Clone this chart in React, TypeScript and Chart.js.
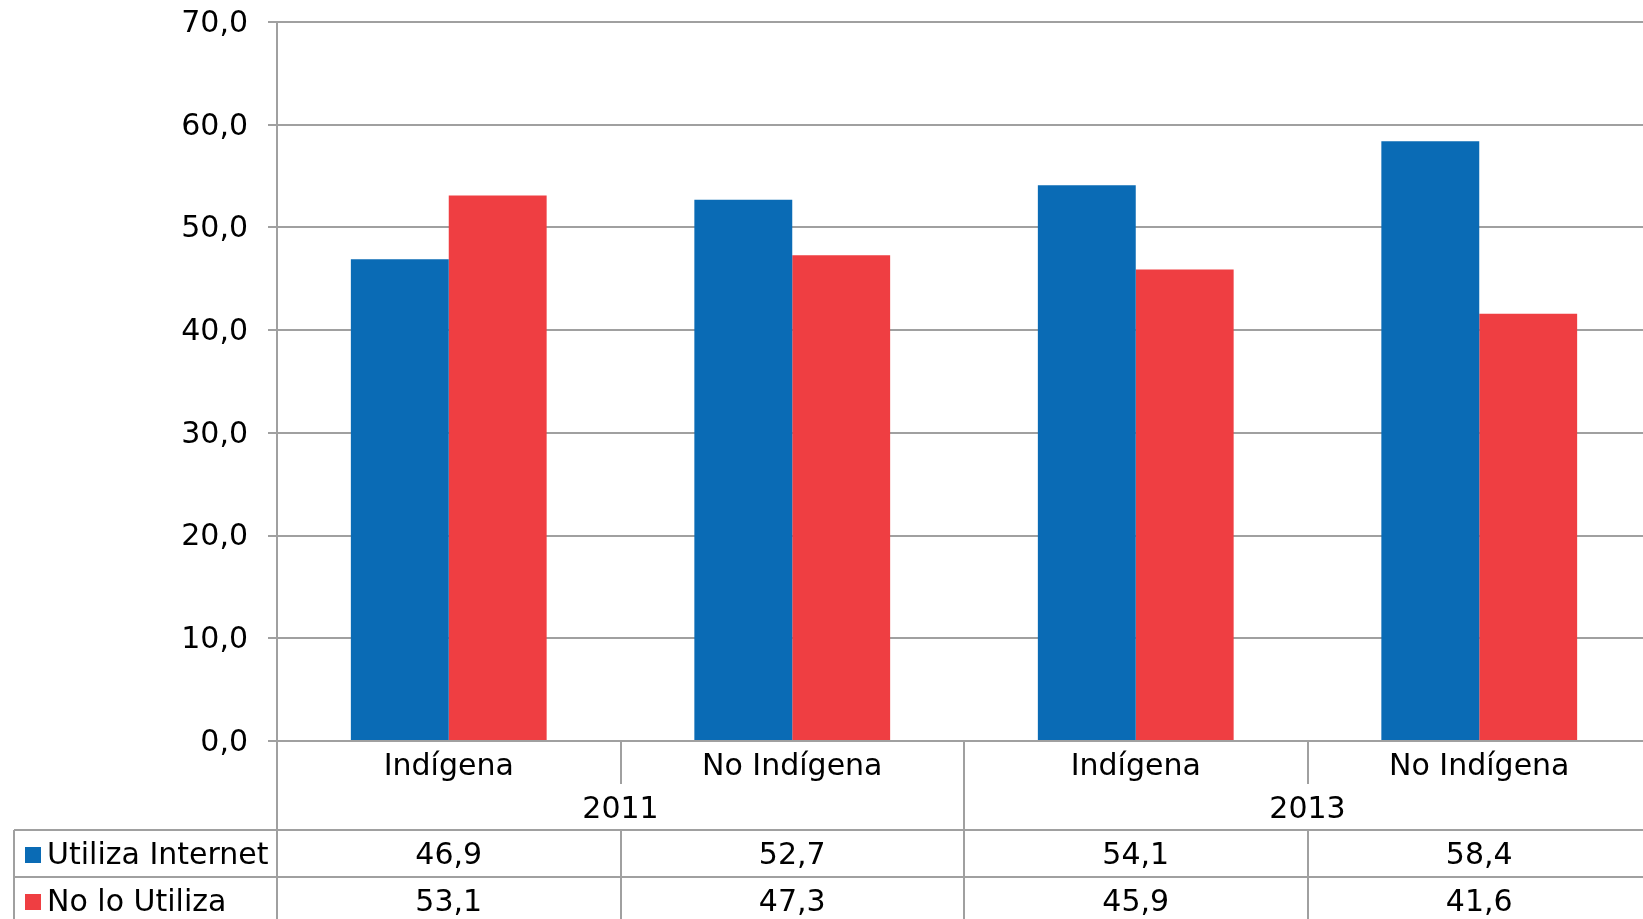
import React, { useEffect, useRef } from "react";
import { Chart, registerables } from "chart.js";

Chart.register(...registerables);

const CATEGORIES = ["Indígena", "No Indígena", "Indígena", "No Indígena"];
const GROUPS = ["2011", "2013"];
const SERIES_NAMES = ["Utiliza Internet", "No lo Utiliza"];
const UTILIZA = [46.9, 52.7, 54.1, 58.4];
const NO_UTILIZA = [53.1, 47.3, 45.9, 41.6];
const COLORS = ["#0a6bb5", "#ef3e42"];

const FONT = "'DejaVu Sans', Verdana, sans-serif";
const GRID = "#a0a0a0";

const fmt = (v: number) => v.toFixed(1).replace(".", ",");

const tablePlugin = {
  id: "dataTable",
  afterDraw(chart: any) {
    const ctx = chart.ctx as CanvasRenderingContext2D;
    const xs = chart.scales.x;
    const area = chart.chartArea;
    const n = CATEGORIES.length;
    const catW = (area.right - area.left) / n;
    const b = area.bottom;
    const catRowEnd = b + 43;
    const groupRowEnd = b + 89;
    const row1End = groupRowEnd + 47;
    const H = chart.height;
    const tableLeft = 14;

    ctx.save();
    ctx.strokeStyle = GRID;
    ctx.lineWidth = 2;
    const line = (x1: number, y1: number, x2: number, y2: number) => {
      ctx.beginPath();
      ctx.moveTo(x1, y1);
      ctx.lineTo(x2, y2);
      ctx.stroke();
    };
    // axis line continuation
    line(area.left, b, area.left, H);
    // category separators
    for (let i = 1; i < n; i++) {
      const bx = Math.round(xs.getPixelForValue(i) - catW / 2);
      if (i % 2 === 0) {
        line(bx, b, bx, H);
      } else {
        line(bx, b, bx, catRowEnd);
        line(bx, groupRowEnd, bx, H);
      }
    }
    // table horizontals
    line(tableLeft, groupRowEnd, chart.width, groupRowEnd);
    line(tableLeft, row1End, chart.width, row1End);
    line(tableLeft, groupRowEnd, tableLeft, H);

    ctx.fillStyle = "#000";
    ctx.font = `30px ${FONT}`;
    ctx.textAlign = "center";
    ctx.textBaseline = "middle";
    // category labels
    CATEGORIES.forEach((c, i) => {
      ctx.fillText(c, xs.getPixelForValue(i), b + 26);
    });
    // group labels
    GROUPS.forEach((g, gi) => {
      const cx = (xs.getPixelForValue(gi * 2) + xs.getPixelForValue(gi * 2 + 1)) / 2;
      ctx.fillText(g, cx, b + 69);
    });
    // table rows
    const rows = [UTILIZA, NO_UTILIZA];
    rows.forEach((vals, r) => {
      const cy = groupRowEnd + 26 + r * 47;
      vals.forEach((v, i) => {
        ctx.textAlign = "center";
        ctx.fillText(fmt(v), xs.getPixelForValue(i), cy);
      });
      ctx.fillStyle = COLORS[r];
      ctx.fillRect(25, cy - 9, 16, 16);
      ctx.fillStyle = "#000";
      ctx.textAlign = "left";
      ctx.fillText(SERIES_NAMES[r], 47, cy);
    });
    ctx.restore();
  },
};

export default function App() {
  const ref = useRef<HTMLCanvasElement | null>(null);

  useEffect(() => {
    if (!ref.current) return;
    const chart = new Chart(ref.current, {
      type: "bar",
      data: {
        labels: CATEGORIES,
        datasets: [
          {
            label: SERIES_NAMES[0],
            data: UTILIZA,
            backgroundColor: COLORS[0],
            borderWidth: 0,
            categoryPercentage: 0.57,
            barPercentage: 1,
          },
          {
            label: SERIES_NAMES[1],
            data: NO_UTILIZA,
            backgroundColor: COLORS[1],
            borderWidth: 0,
            categoryPercentage: 0.57,
            barPercentage: 1,
          },
        ],
      },
      options: {
        responsive: false,
        animation: false,
        devicePixelRatio: 1,
        layout: { padding: { top: 22, right: 9, bottom: 178, left: 0 } },
        plugins: { legend: { display: false }, tooltip: { enabled: false } },
        scales: {
          x: { display: false },
          y: {
            min: 0,
            max: 70,
            ticks: {
              stepSize: 10,
              padding: 20,
              labelOffset: 2,
              color: "#000",
              font: { family: FONT, size: 30 },
              callback: (v: any) => fmt(Number(v)),
            },
            grid: { color: GRID, lineWidth: 2, tickLength: 9, drawTicks: true },
            border: { display: true, color: GRID, width: 2 },
            afterFit: (s: any) => {
              s.width = 277;
              s.paddingTop = 0;
              s.paddingBottom = 0;
            },
          },
        },
      },
      plugins: [tablePlugin],
    });
    return () => chart.destroy();
  }, []);

  return (
    <div
      style={{
        position: "fixed",
        left: 0,
        top: 0,
        width: 1643,
        height: 919,
        overflow: "hidden",
        background: "#fff",
      }}
    >
      <canvas ref={ref} width={1660} height={919} style={{ display: "block" }} />
    </div>
  );
}
